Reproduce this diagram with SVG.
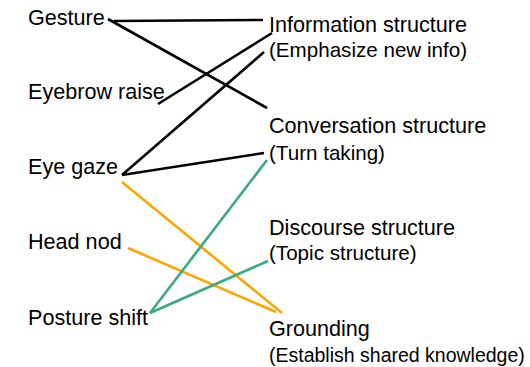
<svg xmlns="http://www.w3.org/2000/svg" width="530" height="367" viewBox="0 0 530 367">
  <style>
    text { font-family: "Liberation Sans", Arial, sans-serif; fill: #000; }
    .main { font-size: 21.6px; }
    .sub { font-size: 20.6px; }
    .small { font-size: 19.5px; }
    .link { fill: none; stroke-width: 2.6; stroke-linecap: butt; }
    .black { stroke: #000; }
    .orange { stroke: #FFA500; }
    .green { stroke: #3BAA80; }
  </style>
  <rect width="530" height="367" fill="#fff"/>

  <g id="connectors">
    <line class="link black" x1="114" y1="21" x2="263" y2="20"/>
    <line class="link black" x1="108" y1="19" x2="267" y2="108"/>
    <line class="link black" x1="158" y1="104" x2="272" y2="33"/>
    <line class="link black" x1="122" y1="175" x2="264" y2="52"/>
    <line class="link black" x1="122" y1="175" x2="264" y2="153"/>
    <line class="link orange" x1="122" y1="182" x2="282" y2="313"/>
    <line class="link orange" x1="128" y1="248" x2="276" y2="312"/>
    <line class="link green" x1="150" y1="313" x2="267" y2="160"/>
    <line class="link green" x1="150" y1="313" x2="268" y2="261"/>
  </g>

  <g id="gesture"><text class="main" x="28" y="25">Gesture</text></g>
  <g id="eyebrow-raise"><text class="main" x="28" y="99">Eyebrow raise</text></g>
  <g id="eye-gaze"><text class="main" x="28" y="174">Eye gaze</text></g>
  <g id="head-nod"><text class="main" x="28" y="249">Head nod</text></g>
  <g id="posture-shift"><text class="main" x="28" y="325">Posture shift</text></g>

  <g id="information-structure">
    <text class="main" x="269" y="32">Information structure</text>
    <text class="sub" x="269" y="57">(Emphasize new info)</text>
  </g>
  <g id="conversation-structure">
    <text class="main" x="269" y="133">Conversation structure</text>
    <text class="sub" x="269" y="160">(Turn taking)</text>
  </g>
  <g id="discourse-structure">
    <text class="main" x="269" y="235">Discourse structure</text>
    <text class="sub" x="269" y="260">(Topic structure)</text>
  </g>
  <g id="grounding">
    <text class="main" x="269" y="336">Grounding</text>
    <text class="small" x="269" y="362">(Establish shared knowledge)</text>
  </g>
</svg>
